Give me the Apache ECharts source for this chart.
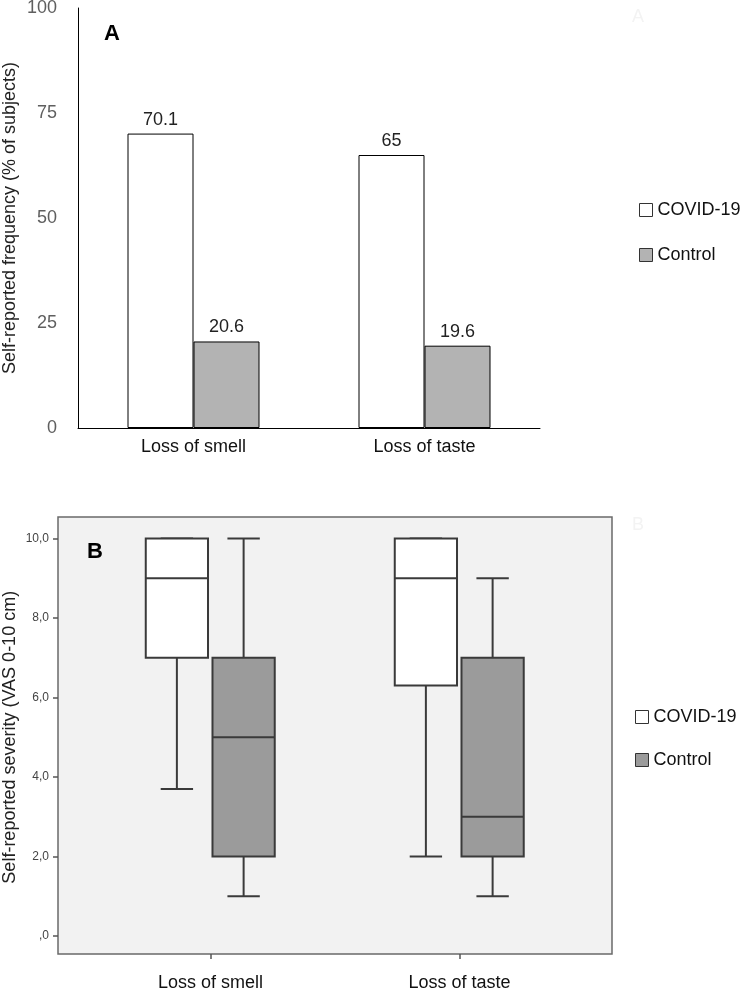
<!DOCTYPE html>
<html><head><meta charset="utf-8">
<script src="https://cdn.jsdelivr.net/npm/echarts@6/dist/echarts.min.js"></script>
<style>html,body{margin:0;padding:0;background:#fff}#c{width:743px;height:997px}</style>
</head><body><div id="c"></div>
<script>
const categories = ['Loss of smell', 'Loss of taste'];
const seriesNames = ['COVID-19', 'Control'];
// Panel A: self-reported frequency (% of subjects)
const freqCovid = [70.1, 65];
const freqControl = [20.6, 19.6];
const freqTicks = [0, 25, 50, 75, 100];
// Panel B: severity box stats [min, Q1, median, Q3, max]
const sevCovid = [[3.7, 7, 9, 10, 10], [2, 6.3, 9, 10, 10]];
const sevControl = [[1, 2, 5, 7, 10], [1, 2, 3, 7, 9]];
const sevTicks = [0, 2, 4, 6, 8, 10];
const sevTickLabels = [',0', '2,0', '4,0', '6,0', '8,0', '10,0'];

const FONT = "'Liberation Sans', Arial, sans-serif";
const chart = echarts.init(document.getElementById('c'), null, {renderer: 'canvas'});

function makeBoxRenderer(offsetFrac, fill) {
  return function (params, api) {
    const c = api.value(0);
    const band = api.size([1, 0])[0];
    const x = api.coord([c, 0])[0] + offsetFrac * band;
    const half = band * 0.125;
    const cap = band * 0.065;
    const y = k => api.coord([c, api.value(k)])[1];
    const yMin = y(1), yQ1 = y(2), yMed = y(3), yQ3 = y(4), yMax = y(5);
    const st = {stroke: '#3a3a3a', lineWidth: 2};
    const line = (x1, y1, x2, y2) => ({type: 'line', shape: {x1, y1, x2, y2}, style: st});
    return {type: 'group', children: [
      line(x, yMax, x, yQ3), line(x - cap, yMax, x + cap, yMax),
      line(x, yQ1, x, yMin), line(x - cap, yMin, x + cap, yMin),
      {type: 'rect', shape: {x: x - half, y: yQ3, width: 2 * half, height: yQ1 - yQ3},
       style: {fill: fill, stroke: '#3a3a3a', lineWidth: 2}},
      line(x - half, yMed, x + half, yMed)
    ]};
  };
}

const G = {containLabel: false, outerBoundsMode: 'none'};
const option = {
  animation: false,
  textStyle: {fontFamily: FONT},
  grid: [
    Object.assign({left: 78, top: 8, width: 462, height: 420}, G),
    Object.assign({left: 86, top: 538.5, width: 498, height: 397.5}, G),
    Object.assign({left: 58, top: 517, width: 554, height: 437, show: true, backgroundColor: '#f2f2f2',
     borderColor: '#6a6a6a', borderWidth: 1.5}, G),
    Object.assign({left: 86, top: 538.5, width: 498, height: 415.5}, G)
  ],
  xAxis: [
    {gridIndex: 0, type: 'category', data: categories,
     axisLine: {lineStyle: {color: '#000', width: 1}}, axisTick: {show: false},
     axisLabel: {margin: 10, fontSize: 18, color: '#111', fontFamily: FONT}},
    {gridIndex: 1, type: 'category', data: categories, show: false},
    {gridIndex: 2, type: 'value', show: false, min: 0, max: 1},
    {gridIndex: 3, type: 'category', data: categories,
     axisLine: {show: false},
     axisTick: {show: true, alignWithLabel: true, length: 5, lineStyle: {color: '#555', width: 1.5}},
     axisLabel: {margin: 20, fontSize: 18, color: '#111', fontFamily: FONT}}
  ],
  yAxis: [
    {gridIndex: 0, type: 'value', min: 0, max: 100, interval: 25,
     axisLine: {show: true, lineStyle: {color: '#000', width: 1}}, axisTick: {show: false},
     splitLine: {show: false},
     axisLabel: {fontSize: 18, color: '#5f5f5f', margin: 21, fontFamily: FONT,
       formatter: v => String(freqTicks[freqTicks.indexOf(v)])},
     name: 'Self-reported frequency (% of subjects)', nameLocation: 'middle', nameGap: 59,
     nameMoveOverlap: false,
     nameRotate: 90, nameTextStyle: {fontSize: 18, color: '#222', fontFamily: FONT}},
    {gridIndex: 1, type: 'value', min: 0, max: 10, interval: 2, offset: 28,
     axisLine: {show: false},
     axisTick: {show: true, length: 5, lineStyle: {color: '#555', width: 1.5}},
     splitLine: {show: false},
     axisLabel: {fontSize: 12, color: '#444', margin: 9, fontFamily: FONT,
       formatter: v => sevTickLabels[sevTicks.indexOf(v)]},
     name: 'Self-reported severity (VAS 0-10 cm)', nameLocation: 'middle', nameGap: 39,
     nameMoveOverlap: false,
     nameRotate: 90, nameTextStyle: {fontSize: 18, color: '#222', fontFamily: FONT}},
    {gridIndex: 2, type: 'value', show: false, min: 0, max: 1},
    {gridIndex: 3, type: 'value', show: false, min: 0, max: 1}
  ],
  legend: [
    {orient: 'vertical', left: 639, top: 201, padding: 0, itemWidth: 13, itemHeight: 13, itemGap: 27,
     selectedMode: false, textStyle: {fontSize: 18, color: '#111', fontFamily: FONT},
     data: [
       {name: seriesNames[0], icon: 'rect', itemStyle: {color: '#fff', borderColor: '#333', borderWidth: 1}},
       {name: seriesNames[1], icon: 'rect', itemStyle: {color: '#b3b3b3', borderColor: '#333', borderWidth: 1}}
     ]},
    {orient: 'vertical', left: 635, top: 708, padding: 0, itemWidth: 13, itemHeight: 13, itemGap: 25,
     selectedMode: false, textStyle: {fontSize: 18, color: '#111', fontFamily: FONT},
     data: [
       {name: seriesNames[0], icon: 'rect', itemStyle: {color: '#fff', borderColor: '#333', borderWidth: 1}},
       {name: seriesNames[1], icon: 'rect', itemStyle: {color: '#9b9b9b', borderColor: '#333', borderWidth: 1}}
     ]}
  ],
  graphic: [
    {type: 'text', x: 112, y: 34, style: {text: 'A', font: 'bold 22px ' + FONT, fill: '#000', align: 'center', verticalAlign: 'middle'}},
    {type: 'text', x: 95, y: 552, z: 10, style: {text: 'B', font: 'bold 22px ' + FONT, fill: '#000', align: 'center', verticalAlign: 'middle'}},
    {type: 'text', x: 638, y: 17, style: {text: 'A', font: '18px ' + FONT, fill: '#f3f3f3', align: 'center', verticalAlign: 'middle'}},
    {type: 'text', x: 638, y: 525, style: {text: 'B', font: '18px ' + FONT, fill: '#f3f3f3', align: 'center', verticalAlign: 'middle'}}
  ],
  series: [
    {name: seriesNames[0], type: 'bar', xAxisIndex: 0, yAxisIndex: 0, data: freqCovid,
     barWidth: 66, barGap: '0%',
     itemStyle: {color: '#fff', borderColor: '#000', borderWidth: 1},
     label: {show: true, position: 'top', distance: 5, fontSize: 18, color: '#222', fontFamily: FONT}},
    {name: seriesNames[1], type: 'bar', xAxisIndex: 0, yAxisIndex: 0, data: freqControl,
     barWidth: 66, barGap: '0%',
     itemStyle: {color: '#b3b3b3', borderColor: '#000', borderWidth: 1},
     label: {show: true, position: 'top', distance: 5, fontSize: 18, color: '#222', fontFamily: FONT}},
    {name: seriesNames[0], type: 'custom', xAxisIndex: 1, yAxisIndex: 1,
     renderItem: makeBoxRenderer(-0.135, '#fff'),
     encode: {x: 0, y: [1, 2, 3, 4, 5]},
     data: sevCovid.map((d, i) => [i].concat(d))},
    {name: seriesNames[1], type: 'custom', xAxisIndex: 1, yAxisIndex: 1,
     renderItem: makeBoxRenderer(0.133, '#9b9b9b'),
     encode: {x: 0, y: [1, 2, 3, 4, 5]},
     data: sevControl.map((d, i) => [i].concat(d))}
  ]
};
chart.setOption(option);
</script>
</body></html>
